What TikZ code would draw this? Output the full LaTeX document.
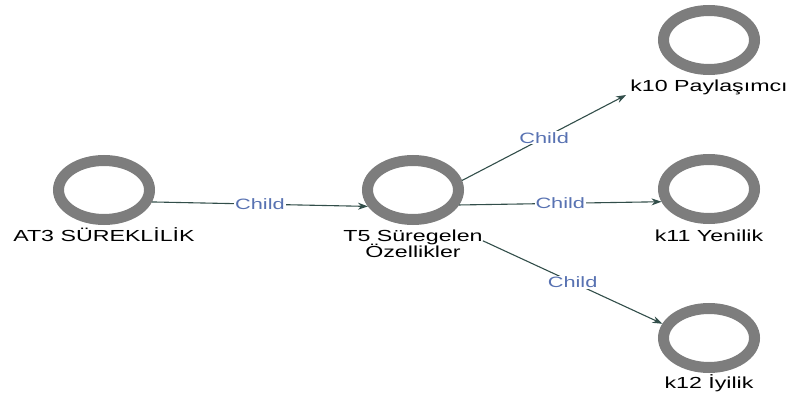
\documentclass[tikz,border=0pt]{standalone}
\usepackage{fontspec}
\setmainfont{Liberation Sans}
\newfontfamily\labfont[FakeStretch=1.45]{Liberation Sans}
\usetikzlibrary{shapes.geometric,arrows.meta}
\definecolor{ringgray}{RGB}{125,125,125}
\definecolor{edgecol}{RGB}{50,78,74}
\definecolor{childcol}{RGB}{88,114,178}
\tikzset{
  ring/.style={ellipse,draw=ringgray,line width=11pt,minimum width=91pt,minimum height=59pt,inner sep=0pt,outer sep=5.5pt},
  namelab/.style={font=\labfont\fontsize{16}{17}\selectfont,text=black,inner sep=0pt,anchor=base,align=center},
  link/.style={draw=edgecol,line width=1.1pt,-{Stealth[length=10pt,width=7pt]}},
  childlab/.style={font=\labfont\fontsize{15}{16}\selectfont,text=childcol,fill=white,inner sep=1pt,midway}
}
\begin{document}
\begin{tikzpicture}[x=1pt,y=1pt]
\useasboundingbox (0,0) rectangle (787,394);
\node[ring] (at3) at (104,204) {};
\node[ring] (t5) at (413,204) {};
\node[ring] (k10) at (709,354) {};
\node[ring] (k11) at (709,205) {};
\node[ring] (k12) at (709,56) {};
\node[namelab] (at3lab) at (104,153) {AT3 SÜREKLİLİK};
\node[namelab] (t5lab) at (413,136) {T5 Süregelen\\Özellikler};
\node[namelab] (k10lab) at (709,302) {k10 Paylaşımcı};
\node[namelab] (k11lab) at (709,153) {k11 Yenilik};
\node[namelab] (k12lab) at (709,6) {k12 İyilik};
\draw[link] (at3.-14) -- (t5.200) node[childlab] {Child};
\draw[link] (t5.11) -- ([xshift=-4pt,yshift=-3pt]k10lab.base west) node[childlab] {Child};
\draw[link] (t5.-18) -- (k11.195) node[childlab] {Child};
\draw[link] ([yshift=3pt]t5lab.east) -- (k12.163) node[childlab] {Child};
\end{tikzpicture}
\end{document}
